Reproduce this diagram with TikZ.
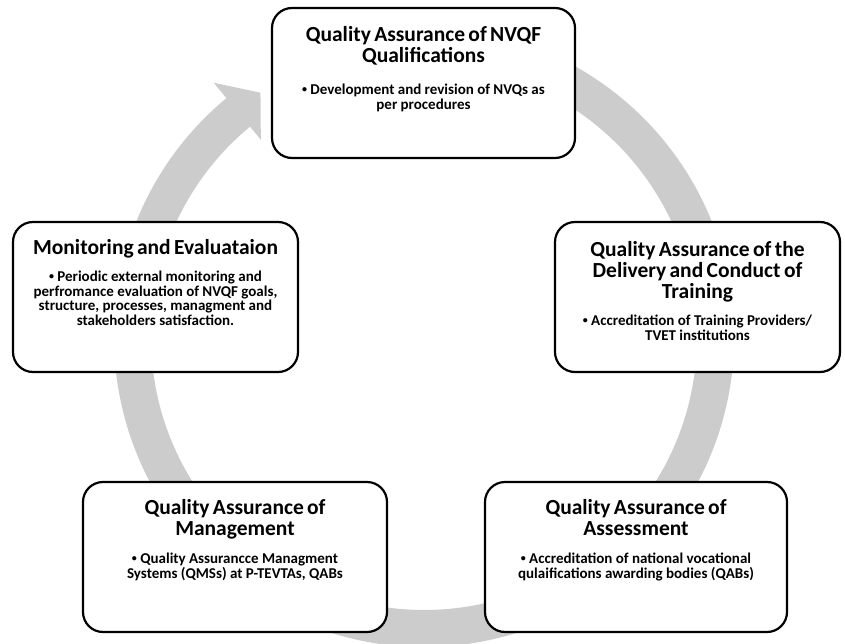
\documentclass[tikz,border=0pt]{standalone}
\usepackage{fontspec}
\setmainfont{Carlito}
\usepackage{tikz}
\usetikzlibrary{positioning}
\definecolor{ringgray}{RGB}{204,204,204}

\newcommand{\ttlfont}{\fontsize{21.5}{21}\selectfont}
\newcommand{\bltfont}{\fontsize{15}{14.5}\selectfont}
\newcommand{\qabullet}{\raisebox{0.25ex}{\fontsize{10}{10}\selectfont\textbullet}~}
\newcommand{\qacontent}[3]{{\ttlfont #1\par}\vspace{#3}{\bltfont #2\par}}

\begin{document}
\begin{tikzpicture}[x=1pt, y=-1pt,
  qabox/.style={draw, line width=2.2pt, rounded corners=20pt, fill=white,
    minimum width=#1, minimum height=150pt},
  qatext/.style={align=center, text width=295pt, inner sep=0pt, font=\bfseries}]
\useasboundingbox (0,0) rectangle (845,644);

% circular arrow behind the boxes
\begin{scope}[shift={(424,337)}]
\fill[ringgray] (260:310) arc[start angle=260, end angle=590.4, radius=310]
  -- (590.4:330) -- (596.2:294) -- (590.4:256) -- (590.4:273)
  arc[start angle=590.4, end angle=260, radius=273] -- cycle;
\end{scope}

% boxes
\node[qabox=303pt] (qual) at (423.5,83) {};
\node[qabox=285pt] (deliv) at (697.5,297) {};
\node[qabox=302pt] (assess) at (636,557) {};
\node[qabox=304pt] (mgmt) at (235,557) {};
\node[qabox=285pt] (monit) at (155.5,297) {};

% texts
\node[qatext, below=19pt of qual.north] (qualtxt) {\qacontent
  {Quality Assurance of NVQF\\Qualifications}
  {\qabullet Development and revision of NVQs as\\per procedures}{18pt}};
\node[qatext, below=20pt of deliv.north] (delivtxt) {\qacontent
  {Quality Assurance of the\\Delivery and Conduct of\\Training}
  {\qabullet Accreditation of Training Providers/\\TVET institutions}{13pt}};
\node[qatext, below=18pt of assess.north] (assesstxt) {\qacontent
  {Quality Assurance of\\Assessment}
  {\qabullet Accreditation of national vocational\\qulaifications awarding bodies (QABs)}{14pt}};
\node[qatext, below=18pt of mgmt.north] (mgmttxt) {\qacontent
  {Quality Assurance of\\Management}
  {\qabullet Quality Assurancce Managment\\Systems (QMSs) at P-TEVTAs, QABs}{14pt}};
\node[qatext, below=18pt of monit.north] (monittxt) {\qacontent
  {Monitoring and Evaluataion}
  {\qabullet Periodic external monitoring and\\perfromance evaluation of NVQF goals,\\structure, processes, managment and\\stakeholders satisfaction.}{13pt}};
\end{tikzpicture}
\end{document}
